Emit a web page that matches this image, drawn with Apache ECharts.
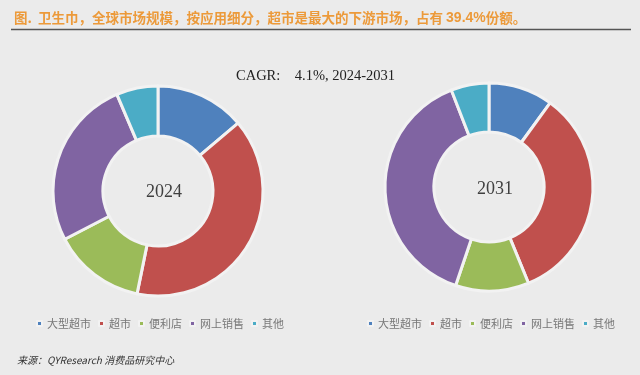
<!DOCTYPE html>
<html><head><meta charset="utf-8">
<script src="https://cdn.jsdelivr.net/npm/echarts@6/dist/echarts.min.js"></script>
<style>html,body{margin:0;padding:0;background:#ebebeb;}#c{width:640px;height:375px;}</style>
</head><body><div id="c"></div>
<script>
const categories = ['大型超市','超市','便利店','网上销售','其他'];
const values2024 = [13.8, 39.4, 14.2, 26.2, 6.4];
const values2031 = [10.0, 33.8, 11.4, 38.9, 5.9];
const colors = ['#4F81BD','#C0504D','#9BBB59','#8064A2','#4BACC6'];
const years = ['2024','2031'];

const chart = echarts.init(document.getElementById('c'));
const cjk = '"Noto Sans CJK SC", sans-serif';
const serif = '"Liberation Serif", "DejaVu Serif", serif';
function mk(vals){ return categories.map((n,i)=>({name:n, value:vals[i]})); }
const legendBase = {
  data: categories, icon: 'rect', itemWidth: 5, itemHeight: 5, itemGap: 7,
  textStyle: {fontFamily: cjk, fontSize: 11, color: '#777'}, top: 313, width: 290
};
chart.setOption({
  backgroundColor: '#ebebeb',
  color: colors,
  animation: false,
  title: [
    {text: '{a|图.  卫生巾，全球市场规模，按应用细分，超市是最大的下游市场，占有 }{b|39.4%}{a|份额。}',
     left: 9, top: 6,
     textStyle: {rich: {
       a: {fontFamily: cjk, fontSize: 13.5, color: '#EC9A3A'},
       b: {fontFamily: '"Liberation Sans", sans-serif', fontSize: 14, fontWeight: 'bold', color: '#EC9A3A'}
     }}},
    {text: 'CAGR:    4.1%, 2024-2031', left: 231, top: 64,
     textStyle: {fontFamily: serif, fontSize: 14.5, fontWeight: 'normal', color: '#222'}},
    {text: years[0], left: 159, top: 178, textAlign: 'center',
     textStyle: {fontFamily: serif, fontSize: 18, fontWeight: 'normal', color: '#404040'}},
    {text: years[1], left: 490, top: 175, textAlign: 'center',
     textStyle: {fontFamily: serif, fontSize: 18, fontWeight: 'normal', color: '#404040'}},
    {text: '来源：QYResearch 消费品研究中心', left: 12, top: 350,
     textStyle: {fontFamily: cjk, fontSize: 10, fontStyle: 'italic', fontWeight: 'normal', color: '#333'}}
  ],
  legend: [
    Object.assign({}, legendBase, {left: 31}),
    Object.assign({}, legendBase, {left: 362})
  ],
  graphic: [
    {type: 'line', shape: {x1: 11, y1: 29.5, x2: 631, y2: 29.5}, style: {stroke: '#555', lineWidth: 1.5}}
  ],
  series: [
    {type: 'pie', center: [158, 191], radius: [55, 105], startAngle: 90, clockwise: true,
     label: {show: false}, labelLine: {show: false}, silent: true,
     itemStyle: {borderColor: '#f2f2f2', borderWidth: 3},
     data: mk(values2024)},
    {type: 'pie', center: [489, 187], radius: [55, 104], startAngle: 90, clockwise: true,
     label: {show: false}, labelLine: {show: false}, silent: true,
     itemStyle: {borderColor: '#f2f2f2', borderWidth: 3},
     data: mk(values2031)}
  ]
});
</script></body></html>
